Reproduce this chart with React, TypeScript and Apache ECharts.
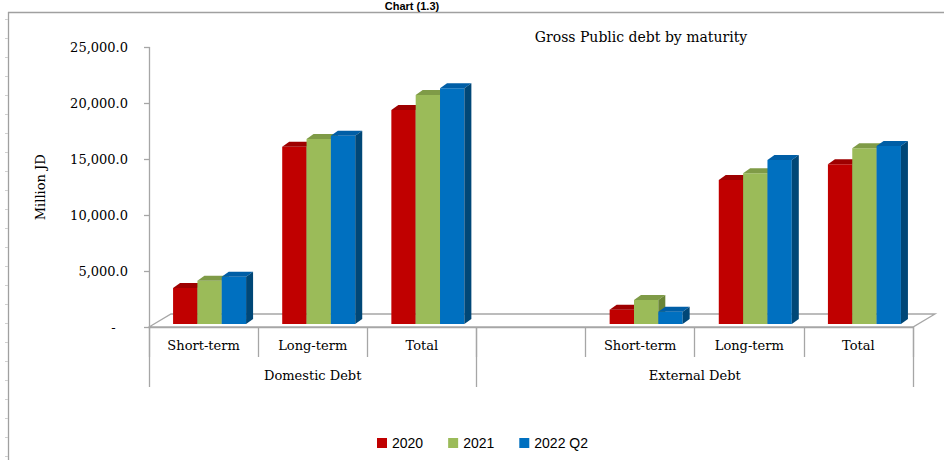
import React, { useEffect, useRef } from "react";
import * as echarts from "echarts";

// ---- data ----
const categories = ["Short-term", "Long-term", "Total", "", "Short-term", "Long-term", "Total"];
const groups = ["Domestic Debt", "External Debt"];
const groupSpans = [3, 4];
const seriesNames = ["2020", "2021", "2022 Q2"];
const values2020 = [3220, 15860, 19140, null, 1280, 12880, 14280];
const values2021 = [3870, 16550, 20480, null, 2150, 13480, 15720];
const values2022Q2 = [4230, 16840, 21080, null, 1100, 14670, 15920];
const yMin = 0;
const yMax = 25000;
const yInterval = 5000;
const chartTitle = "Gross Public debt by maturity";
const pageHeading = "Chart (1.3)";
const yAxisName = "Million JD";

const frontColors = ["#C00000", "#9BBB59", "#0070C0"];
const topColors = ["#9E0000", "#7F9B47", "#005EA6"];
const sideColors = ["#7A0000", "#6A8536", "#004777"];

const serif = "DejaVu Serif";
const sans = "Liberation Sans";
const grey = "#A6A6A6";

const allValues = [values2020, values2021, values2022Q2];

function groupBoundaries() {
  const b = [0];
  groupSpans.forEach((s) => b.push(b[b.length - 1] + s));
  return b;
}
function groupCenters() {
  const b = groupBoundaries();
  return groups.map((_, i) => (b[i] + b[i + 1]) / 2);
}

export default function App() {
  const ref = useRef<HTMLDivElement>(null);
  useEffect(() => {
    if (!ref.current) return;
    const chart = echarts.init(ref.current, null, { renderer: "svg" });
    const DX = 7;
    const DY = 5;
    const LIFT = 3;
    const makeRender = (si: number) => (params: any, api: any) => {
      const cat = api.value(0);
      const v = api.value(1);
      const base = api.coord([cat, 0]);
      const top = api.coord([cat, v]);
      const band = api.size([1, 0])[0];
      const bw = band * 0.223;
      const shift = band * 0.055;
      const x0 = base[0] + shift - 1.5 * bw + si * bw;
      const x1 = x0 + bw;
      const yb = base[1] - LIFT;
      const yt = top[1] - LIFT;
      return {
        type: "group",
        children: [
          { type: "rect", shape: { x: x0, y: yt, width: bw, height: yb - yt }, style: { fill: frontColors[si] } },
          {
            type: "polygon",
            shape: { points: [[x0, yt], [x1, yt], [x1 + DX, yt - DY], [x0 + DX, yt - DY]] },
            style: { fill: topColors[si] },
          },
          {
            type: "polygon",
            shape: { points: [[x1, yb], [x1, yt], [x1 + DX, yt - DY], [x1 + DX, yb - DY]] },
            style: { fill: sideColors[si] },
          },
        ],
      };
    };

    const floorRender = (params: any, api: any) => {
      const cs = params.coordSys;
      const fx = 22;
      const fy = 13;
      const yb = cs.y + cs.height;
      return {
        type: "polygon",
        shape: {
          points: [
            [cs.x, yb],
            [cs.x + cs.width, yb],
            [cs.x + cs.width + fx, yb - fy],
            [cs.x + fx, yb - fy],
          ],
        },
        style: { fill: "#FFFFFF", stroke: grey, lineWidth: 1.3 },
      };
    };

    const barSeries = seriesNames.map((name, si) => ({
      name,
      type: "custom",
      xAxisIndex: 0,
      yAxisIndex: 0,
      z: 3,
      itemStyle: { color: frontColors[si] },
      renderItem: makeRender(si),
      encode: { x: 0, y: 1 },
      data: allValues[si]
        .map((v, i) => (v == null ? null : [i, v]))
        .filter((d) => d !== null),
    }));

    const frameTicks: any[] = [];
    for (let y = 19; y < 460; y += 19) {
      frameTicks.push({
        type: "line",
        shape: { x1: 5, y1: y + 0.5, x2: 8, y2: y + 0.5 },
        style: { stroke: "#D0D0D0", lineWidth: 1 },
      });
    }

    const centers = groupCenters();

    chart.setOption({
      animation: false,
      backgroundColor: "#FFFFFF",
      grid: { left: 149, right: 31, top: 47.5, bottom: 133 },
      legend: {
        data: seriesNames,
        left: 372,
        top: 431,
        icon: "rect",
        itemWidth: 10,
        itemHeight: 10,
        itemGap: 25,
        textStyle: { fontFamily: sans, fontSize: 14, color: "#000" },
      },
      xAxis: [
        {
          type: "category",
          data: categories,
          position: "bottom",
          axisLine: { show: true, lineStyle: { color: grey, width: 1.3 } },
          axisTick: { show: true, interval: 0, length: 30, lineStyle: { color: grey, width: 1.3 } },
          axisLabel: { interval: 0, margin: 12, fontFamily: serif, fontSize: 13, color: "#000" },
          splitLine: { show: false },
        },
        {
          type: "value",
          min: 0,
          max: categories.length,
          position: "bottom",
          axisLine: { show: false },
          splitLine: { show: false },
          axisTick: {
            show: true,
            customValues: groupBoundaries(),
            length: 60,
            lineStyle: { color: grey, width: 1.3 },
          },
          axisLabel: {
            customValues: centers,
            margin: 42,
            fontFamily: serif,
            fontSize: 13,
            color: "#000",
            formatter: (v: number) => {
              const idx = centers.findIndex((c) => Math.abs(c - v) < 1e-6);
              return idx >= 0 ? groups[idx] : "";
            },
          },
        },
      ],
      yAxis: {
        type: "value",
        min: yMin,
        max: yMax,
        interval: yInterval,
        name: yAxisName,
        nameLocation: "middle",
        nameRotate: 90,
        nameGap: 102,
        nameTextStyle: { fontFamily: serif, fontSize: 13, color: "#000" },
        axisLine: { show: true, lineStyle: { color: grey, width: 1.3 } },
        axisTick: { show: true, length: 5, lineStyle: { color: grey, width: 1.3 } },
        splitLine: { show: false },
        axisLabel: {
          margin: 21,
          fontFamily: serif,
          fontSize: 13,
          color: "#000",
          formatter: (v: number) =>
            v === 0
              ? "-\u00a0\u00a0\u00a0"
              : v.toLocaleString("en-US", { minimumFractionDigits: 1, maximumFractionDigits: 1 }),
        },
      },
      graphic: [
        {
          type: "line",
          shape: { x1: 8.5, y1: 12, x2: 8.5, y2: 460 },
          style: { stroke: "#A0A0A0", lineWidth: 1.3 },
        },
        {
          type: "line",
          shape: { x1: 8, y1: 12.5, x2: 944, y2: 12.5 },
          style: { stroke: "#A0A0A0", lineWidth: 1.3 },
        },
        ...frameTicks,
        {
          type: "text",
          x: 412,
          y: 6,
          style: {
            text: pageHeading,
            fontFamily: sans,
            fontWeight: "bold",
            fontSize: 11,
            fill: "#000",
            textAlign: "center",
            textVerticalAlign: "middle",
          },
        },
        {
          type: "text",
          x: 641,
          y: 37,
          style: {
            text: chartTitle,
            fontFamily: serif,
            fontSize: 14,
            fill: "#000",
            textAlign: "center",
            textVerticalAlign: "middle",
          },
        },
      ],
      series: [
        {
          type: "custom",
          name: "floor",
          xAxisIndex: 0,
          yAxisIndex: 0,
          z: 1,
          silent: true,
          renderItem: floorRender,
          data: [[0, 0]],
        },
        ...barSeries,
      ],
    });
    return () => chart.dispose();
  }, []);
  return (
    <div
      ref={ref}
      style={{ position: "fixed", left: 0, top: 0, width: 944, height: 460 }}
    />
  );
}
